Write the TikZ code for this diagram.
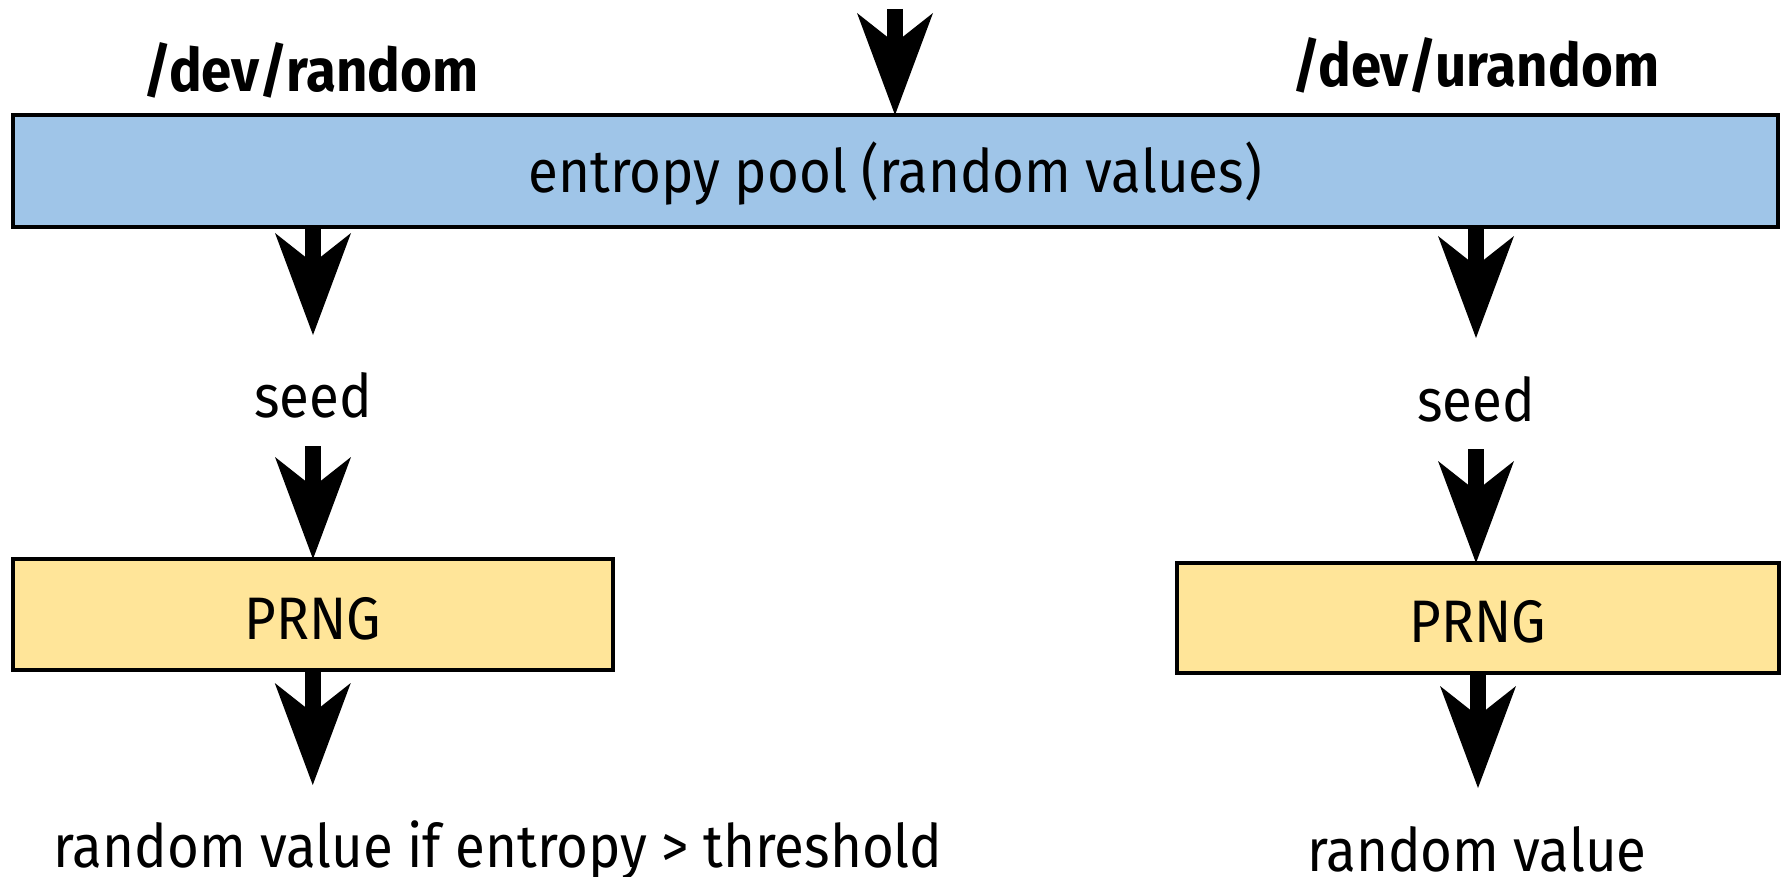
\documentclass[tikz,border=0pt]{standalone}
\usepackage{fontspec}
\setmainfont{Fira Sans}[FakeStretch=0.91]
\usetikzlibrary{arrows.meta}
\definecolor{poolblue}{HTML}{9FC5E8}
\definecolor{prngyellow}{HTML}{FFE599}
\begin{document}
\begin{tikzpicture}[x=0.5pt,y=-0.5pt,
  txt/.style={font=\fontsize{30}{36}\selectfont, inner sep=0pt, outer sep=0pt, anchor=base},
  lbl/.style={font=\fontsize{30}{36}\selectfont\bfseries, inner sep=0pt, outer sep=0pt, anchor=base},
  box/.style={draw=black, line width=2pt, inner sep=0pt, outer sep=0pt, text depth=0pt, font=\fontsize{30}{36}\selectfont},
  arr/.style={line width=8pt, -{Stealth[length=51pt,width=38pt,inset=15pt,line width=0pt]}}]
\useasboundingbox (0,0) rectangle (1783,877);
% boxes
\node[box, fill=poolblue, minimum width=882.75pt, minimum height=56pt, text height=22pt] (pool) at (895.25,171) {entropy pool (random values)};
\node[box, fill=prngyellow, minimum width=300.25pt, minimum height=55.5pt, text height=24.5pt] (prngL) at (312.75,614.5) {PRNG};
\node[box, fill=prngyellow, minimum width=301pt, minimum height=55pt, text height=24.5pt] (prngR) at (1478,618) {PRNG};
% labels
\node[lbl] (devR) at (311,92) {/dev/random};
\node[lbl] (devU) at (1476,87) {/dev/urandom};
\node[txt, text height=41pt, text depth=14.5pt] (seedL) at (313,417) {seed};
\node[txt, text height=41.5pt, text depth=14pt] (seedR) at (1476,421) {seed};
\node[txt, text height=41pt, text depth=0pt] (outL) at (498,867) {random value if entropy > threshold};
\node[txt, text height=41.5pt, text depth=0pt] (outR) at (1477,871) {random value};
% arrows
\coordinate (src) at (895,9);
\draw[arr] (src) -- (src |- pool.north);
\draw[arr] (seedL.north |- pool.south) -- (seedL.north);
\draw[arr] (seedL.south) -- (seedL.south |- prngL.north);
\draw[arr] (prngL.south) -- (prngL.south |- outL.north);
\draw[arr] (seedR.north |- pool.south) -- (seedR.north);
\draw[arr] (seedR.south) -- (seedR.south |- prngR.north);
\draw[arr] (prngR.south) -- (prngR.south |- outR.north);
\end{tikzpicture}
\end{document}
